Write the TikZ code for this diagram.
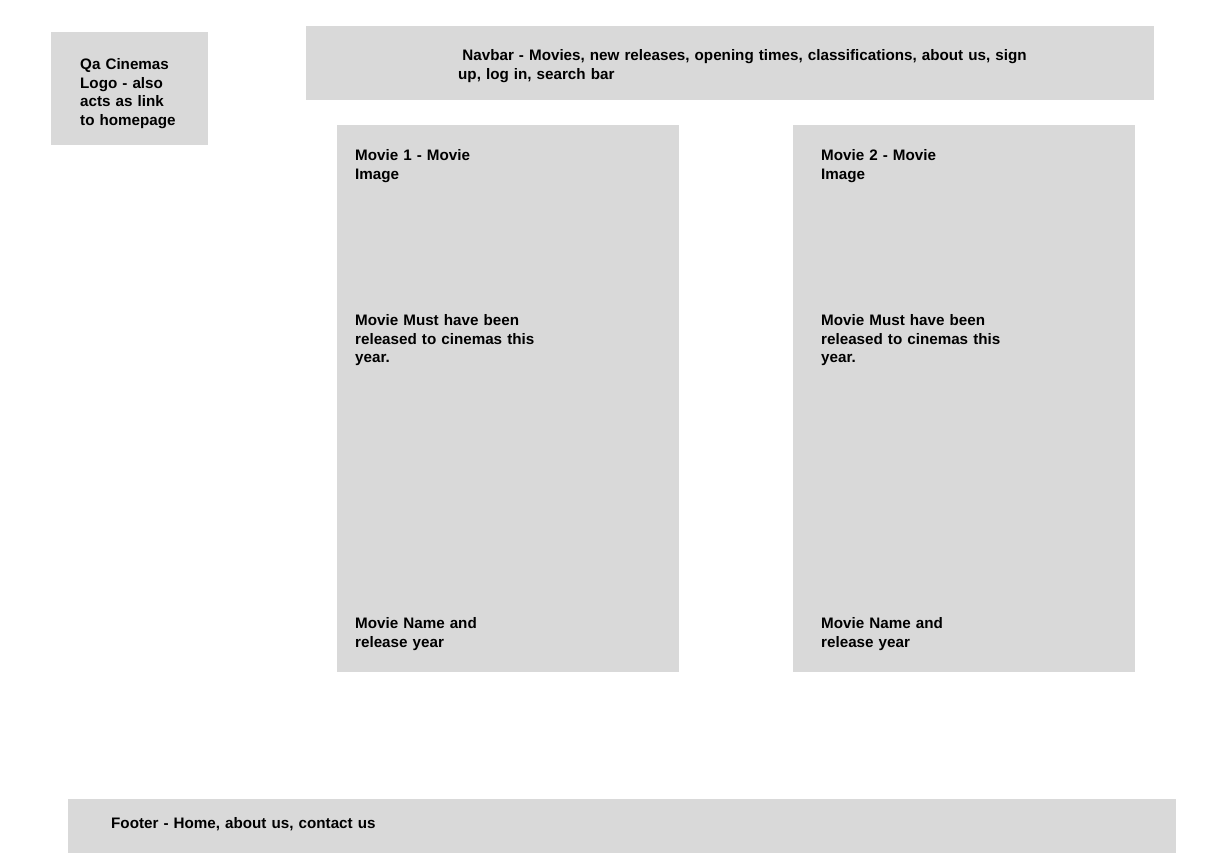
\documentclass[tikz,border=0pt]{standalone}
\usepackage{fontspec}
\setmainfont{Liberation Sans}
\definecolor{panelgrey}{HTML}{D9D9D9}
\begin{document}
\begin{tikzpicture}[x=1pt,y=-1pt,
  panel/.style={fill=panelgrey,draw=none},
  label/.style={anchor=base west,inner sep=0pt,align=left,text width=400pt,
    font=\fontsize{15.2}{18.7}\selectfont\bfseries}]
\useasboundingbox (0,0) rectangle (1214,858);

% grey blocks of the page layout
\path[panel] (51,32) rectangle (208,145);
\path[panel] (306,26) rectangle (1154,100);
\path[panel] (337,125) rectangle (679,672);
\path[panel] (793,125) rectangle (1135,672);
\path[panel] (68,799) rectangle (1176,853);

% logo
\node[label] (logo) at (80,69.5) {Qa Cinemas\\Logo - also\\acts as link\\to homepage};

% navbar
\node[label,text width=700pt] (nav) at (458,60.5) {\hspace*{4.2pt}Navbar - Movies, new releases, opening times, classifications, about us, sign\\up, log in, search bar};

% first movie card
\node[label] (m1img) at (355,160.5) {Movie 1 - Movie\\Image};
\node[label] (m1rule) at (355,325.5) {Movie Must have been\\released to cinemas this\\year.};
\node[label] (m1name) at (355,628.5) {Movie Name and\\release year};

% second movie card
\node[label] (m2img) at (821,160.5) {Movie 2 - Movie\\Image};
\node[label] (m2rule) at (821,325.5) {Movie Must have been\\released to cinemas this\\year.};
\node[label] (m2name) at (821,628.5) {Movie Name and\\release year};

% footer
\node[label] (foot) at (111,828.5) {Footer - Home, about us, contact us};
\end{tikzpicture}
\end{document}
